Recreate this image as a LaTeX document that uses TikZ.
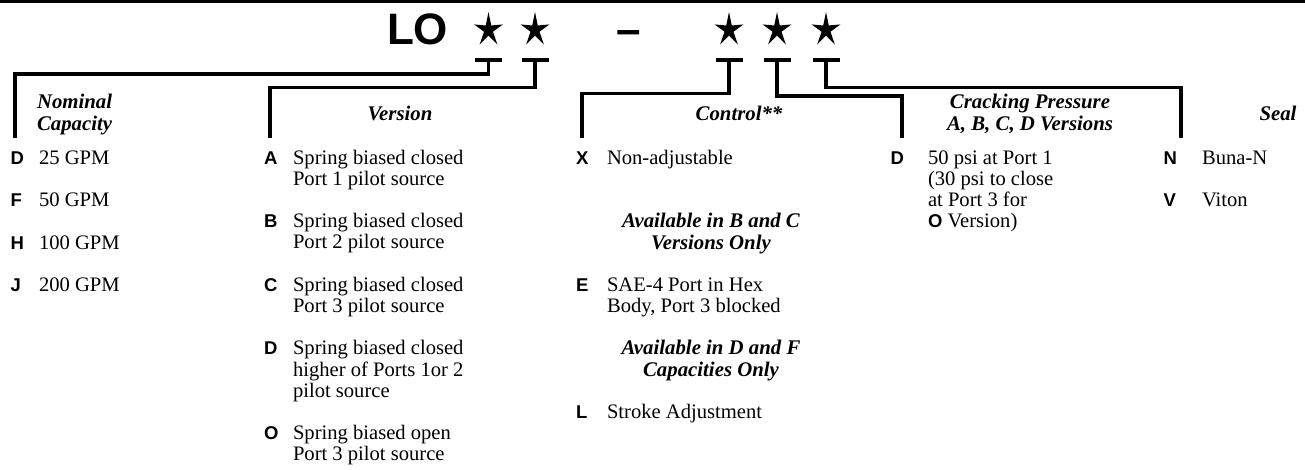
\documentclass[tikz,border=0pt]{standalone}
\usepackage{fontspec}
\setmainfont{Liberation Serif}
\setsansfont{Liberation Sans}
\begin{document}
% multi-line nodes are placed by the baseline of their last line
\begin{tikzpicture}[x=1pt,y=-1pt,
  every node/.style={inner sep=0pt, outer sep=0pt},
  body/.style={anchor=base west, align=left, font=\fontsize{20.6}{21.2}\selectfont},
  head/.style={anchor=base, align=center, font=\fontsize{20.8}{21.4}\selectfont\bfseries\itshape},
  key/.style={anchor=base west, font=\fontsize{18.5}{21.2}\selectfont\sffamily\bfseries},
  leader/.style={line width=3.2pt, line join=miter},
  tickbar/.style={line width=3.6pt},
  title/.style={anchor=base west, font=\fontsize{44}{44}\selectfont\sffamily\bfseries},
]
\useasboundingbox (0,0) rectangle (1305,469);

% heavy rule along the top edge
\fill (0,0) rectangle (1305,3.2);

% model code
\node[title] (lo) at (387,44) {LO};
\node[title, anchor=base] (dash) at (628.5,44) {–};
\foreach \n/\sx in {1/488.5,2/535,3/729,4/777,5/826} {
  \fill[shift={(\sx,30)}, xscale=0.84]
    (270:18) -- (306:5.6) -- (342:18) -- (18:5.6) -- (54:18) -- (90:5.6)
    -- (126:18) -- (162:5.6) -- (198:18) -- (234:5.6) -- cycle;
  \coordinate (b\n) at (\sx,60);
  \draw[tickbar] (b\n) ++(-13.5,0) -- ++(27,0);
}

% column tops
\coordinate (c1) at (15,138);
\coordinate (c2) at (270,138);
\coordinate (c3) at (582,137.5);
\coordinate (c4) at (902,137.5);
\coordinate (c5) at (1181,138);

% leaders from each code position to its column
\draw[leader] (b1) -- ++(0,14) -| (c1);
\draw[leader] (b2) -- ++(0,27.5) -| (c2);
\draw[leader] (b3) -- ++(0,33.5) -| (c3);
\draw[leader] (b4) -- ++(0,36) -| (c4);
\draw[leader] (b5) -- ++(0,27.5) -| (c5);

% column headings
\node[head, align=left, anchor=base west] (hCap) at (37,130) {Nominal\\Capacity};
\node[head] (hVer) at (400,120) {Version};
\node[head] (hCtl) at (739,120) {Control**};
\node[head] (hCrk) at (1030,130) {Cracking Pressure\\A, B, C, D Versions};
\node[head] (hSeal) at (1278,120) {Seal};

% nominal capacity
\node[key] (kD) at (10.7,164) {D};   \node[body] (tD) at (39,164) {25 GPM};
\node[key] (kF) at (10.7,206.5) {F}; \node[body] (tF) at (39,206.5) {50 GPM};
\node[key] (kH) at (10.7,249) {H};   \node[body] (tH) at (39,249) {100 GPM};
\node[key] (kJ) at (10.7,291.5) {J}; \node[body] (tJ) at (39,291.5) {200 GPM};

% version
\node[key] (vA) at (264,164) {A};
\node[body] (vtA) at (293,185.2) {Spring biased closed\\Port 1 pilot source};
\node[key] (vB) at (264,227.6) {B};
\node[body] (vtB) at (293,248.8) {Spring biased closed\\Port 2 pilot source};
\node[key] (vC) at (264,291.2) {C};
\node[body] (vtC) at (293,312.4) {Spring biased closed\\Port 3 pilot source};
\node[key] (vD) at (264,354.8) {D};
\node[body] (vtD) at (293,397.2) {Spring biased closed\\higher of Ports 1or 2\\pilot source};
\node[key] (vO) at (264,439.6) {O};
\node[body] (vtO) at (293,460.8) {Spring biased open\\Port 3 pilot source};

% control
\node[key] (xX) at (576,164) {X};
\node[body] (xtX) at (607,164) {Non-adjustable};
\node[head] (nBC) at (711,249) {Available in B and C\\Versions Only};
\node[key] (xE) at (576,291.2) {E};
\node[body] (xtE) at (607,312.4) {SAE-4 Port in Hex\\Body, Port 3 blocked};
\node[head] (nDF) at (711,376.2) {Available in D and F\\Capacities Only};
\node[key] (xL) at (576,418.4) {L};
\node[body] (xtL) at (607,418.4) {Stroke Adjustment};

% cracking pressure
\node[key] (pD) at (890.7,164) {D};
\node[body] (ptD) at (928,227.6) {50 psi at Port 1\\(30 psi to close\\at Port 3 for\\{\fontsize{18.5}{21.2}\selectfont\sffamily\bfseries O} Version)};

% seal
\node[key] (sN) at (1163.7,164) {N};  \node[body] (stN) at (1202,164) {Buna-N};
\node[key] (sV) at (1163.7,206.4) {V}; \node[body] (stV) at (1202,206.4) {Viton};
\end{tikzpicture}
\end{document}
